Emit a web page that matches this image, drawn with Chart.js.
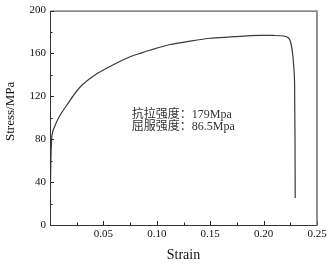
<!DOCTYPE html>
<html>
<head>
<meta charset="utf-8">
<script src="https://cdn.jsdelivr.net/npm/chart.js@4.4.0/dist/chart.umd.min.js"></script>
<style>
  html, body { margin: 0; padding: 0; background: #fff; }
  #wrap { width: 330px; height: 264px; }
</style>
</head>
<body>
<div id="wrap"><canvas id="stressChart"></canvas></div>
<script>
// stress-strain curve
const strain = [0, 0.0008, 0.0016, 0.0025, 0.004, 0.0077, 0.0156, 0.028, 0.0435, 0.062, 0.075, 0.084,
                0.094, 0.1125, 0.131, 0.15, 0.169, 0.1875, 0.197, 0.209, 0.2187, 0.2234, 0.2255,
                0.2274, 0.229, 0.2296];
const stress = [0, 60, 81, 87, 91, 99.4, 111.7, 128.5, 140.8, 150.9, 157, 160,
                163.2, 168.4, 171.5, 174.2, 175.4, 176.6, 176.9, 176.8, 176.3, 174.5, 170,
                157.7, 133, 25.3];

const yTicks = [0, 40, 80, 120, 160, 200];
const xTicks = [0.05, 0.10, 0.15, 0.20, 0.25];
const yTitle = 'Stress/MPa';
const noteLines = ['抗拉强度：179Mpa', '屈服强度：86.5Mpa'];
const noteX = 0.0766;
const noteY = [102.5, 91.7];

const serif = "'Liberation Serif', 'Times New Roman', serif";

// inward ticks, frame, y title and the text note
const framePlugin = {
    id: 'frame',
    afterDatasetsDraw(chart) {
        const { ctx, chartArea: a, scales: { x, y } } = chart;
        ctx.save();
        ctx.strokeStyle = '#222';
        ctx.lineWidth = 1;
        ctx.beginPath();
        for (let v = 0; v <= 200; v += 20) {
            const py = Math.round(y.getPixelForValue(v)) + 0.5;
            const len = v % 40 === 0 ? 4 : 2.5;
            ctx.moveTo(a.left, py);
            ctx.lineTo(a.left + len, py);
        }
        for (let i = 1; i <= 10; i++) {
            const v = i * 0.025;
            const px = Math.round(x.getPixelForValue(v)) + 0.5;
            const len = i % 2 === 0 ? 4 : 2.5;
            ctx.moveTo(px, a.bottom);
            ctx.lineTo(px, a.bottom - len);
        }
        ctx.stroke();

        // frame
        ctx.beginPath();
        ctx.strokeStyle = '#333';
        ctx.moveTo(a.left + 0.5, a.bottom);
        ctx.lineTo(a.left + 0.5, a.top + 0.5);
        ctx.lineTo(a.right, a.top + 0.5);
        ctx.moveTo(a.left, a.bottom + 0.5);
        ctx.lineTo(a.right, a.bottom + 0.5);
        ctx.stroke();
        ctx.beginPath();
        ctx.strokeStyle = '#777';
        ctx.lineWidth = 1.6;
        ctx.moveTo(a.right, a.top);
        ctx.lineTo(a.right, a.bottom + 1);
        ctx.stroke();

        // y axis title, sits a bit above the middle in the original
        ctx.save();
        ctx.translate(11, y.getPixelForValue(106));
        ctx.rotate(-Math.PI / 2);
        ctx.fillStyle = '#111';
        ctx.font = "13px " + serif;
        ctx.textAlign = 'center';
        ctx.textBaseline = 'middle';
        ctx.fillText(yTitle, 0, 0);
        ctx.restore();

        ctx.fillStyle = '#333';
        ctx.font = "12px 'Liberation Serif', 'Noto Sans CJK SC', serif";
        ctx.textAlign = 'left';
        ctx.textBaseline = 'middle';
        noteLines.forEach((t, i) => {
            ctx.fillText(t, x.getPixelForValue(noteX), y.getPixelForValue(noteY[i]));
        });
        ctx.restore();
    }
};

const points = strain.map((s, i) => ({ x: s, y: stress[i] }));

new Chart(document.getElementById('stressChart').getContext('2d'), {
    type: 'scatter',
    data: {
        datasets: [{
            data: points,
            showLine: true,
            borderColor: '#3a3a3a',
            borderWidth: 1.2,
            pointRadius: 0,
            tension: 0.25,
            fill: false
        }]
    },
    options: {
        responsive: true,
        maintainAspectRatio: false,
        animation: false,
        layout: { padding: { top: 7, right: 13, left: 0, bottom: 0 } },
        plugins: {
            legend: { display: false },
            tooltip: { enabled: false }
        },
        scales: {
            x: {
                type: 'linear',
                min: 0,
                max: 0.25,
                afterFit: (s) => { s.height = 39; },
                afterBuildTicks: (s) => { s.ticks = xTicks.map(v => ({ value: v })); },
                grid: { display: false, drawTicks: false },
                border: { display: false },
                ticks: {
                    padding: 3,
                    color: '#111',
                    font: { family: serif, size: 11 },
                    callback: (v) => v.toFixed(2)
                },
                title: {
                    display: true,
                    text: 'Strain',
                    color: '#111',
                    font: { family: serif, size: 14 },
                    padding: { top: 3, bottom: 0 }
                }
            },
            y: {
                min: 0,
                max: 200,
                afterFit: (s) => { s.width = 50; },
                afterBuildTicks: (s) => { s.ticks = yTicks.map(v => ({ value: v })); },
                grid: { display: false, drawTicks: false },
                border: { display: false },
                ticks: {
                    padding: 4,
                    color: '#111',
                    font: { family: serif, size: 11 }
                }
            }
        }
    },
    plugins: [framePlugin]
});
</script>
</body>
</html>
